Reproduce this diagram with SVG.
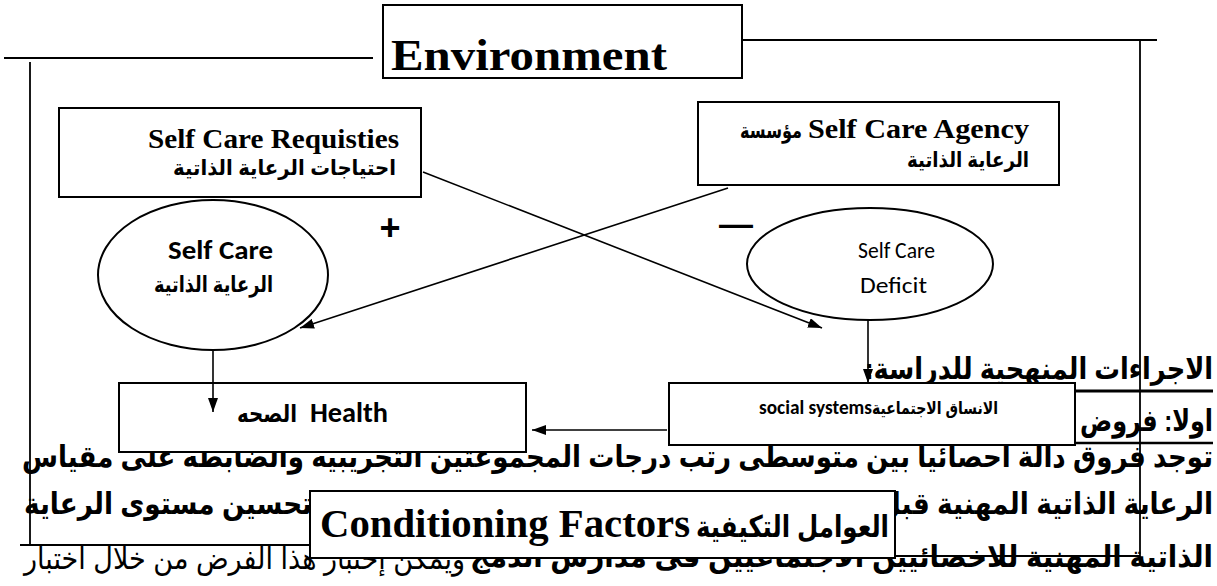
<svg xmlns="http://www.w3.org/2000/svg" width="1217" height="586" viewBox="0 0 1217 586">
<defs>
<style>
.box{fill:#fff;stroke:#000;stroke-width:2}
.ln{fill:none;stroke:#000;stroke-width:1.8}
.con{fill:none;stroke:#000;stroke-width:1.6}
.serif{font-family:'Liberation Serif','Times New Roman',serif;font-weight:bold;fill:#000}
.cal{font-family:Carlito,Lato,'Open Sans',sans-serif;fill:#000}
.ar{font-family:'Liberation Sans','DejaVu Sans',sans-serif;font-weight:bold;fill:#000}
.body{font-family:'Liberation Sans','DejaVu Sans',sans-serif;font-weight:bold;font-size:30px;fill:#000}
.thin{font-weight:normal}
</style>
<marker id="ah" markerUnits="userSpaceOnUse" viewBox="0 0 14 10" refX="14" refY="5" markerWidth="14" markerHeight="10" orient="auto"><path d="M0,0 L14,5 L0,10 Z" fill="#000"/></marker>
</defs>
<rect width="1217" height="586" fill="#fff"/>
<g id="document-text">
<text class="body" x="865" y="379" textLength="348" lengthAdjust="spacingAndGlyphs">الاجراءات المنهجية للدراسة:&#x200F;</text>
<line x1="877" y1="391" x2="1213" y2="391" stroke="#000" stroke-width="3"/>
<text class="body" x="1080" y="431" textLength="133" lengthAdjust="spacingAndGlyphs">اولا: فروض</text>
<line x1="1075" y1="443" x2="1213" y2="443" stroke="#000" stroke-width="2.5"/>
<text class="body" x="22" y="467" textLength="1191" lengthAdjust="spacingAndGlyphs">توجد فروق دالة احصائيا بين متوسطى رتب درجات المجموعتين التجريبيه والضابطه على مقياس</text>
<text class="body" x="878" y="514" textLength="335" lengthAdjust="spacingAndGlyphs">الرعاية الذاتية المهنية قبل</text>
<text class="body" x="24" y="514" textLength="288" lengthAdjust="spacingAndGlyphs">تحسين مستوى الرعاية</text>
<text class="body" x="470" y="567" textLength="743" lengthAdjust="spacingAndGlyphs">الذاتية المهنية للاخصائيين الاجتماعيين فى مدارس الدمج</text>
<text class="body thin" x="24" y="569" textLength="441" lengthAdjust="spacingAndGlyphs">ويمكن إختبار هذا الفرض من خلال اختبار</text>
</g>
<g id="environment-frame">
<line class="ln" x1="4" y1="58" x2="373" y2="58"/>
<line class="ln" x1="742" y1="40" x2="1157" y2="40"/>
<line class="ln" x1="30" y1="62" x2="30" y2="545"/>
<line class="ln" x1="1140" y1="40" x2="1140" y2="562"/>
<line class="ln" x1="20" y1="545" x2="310" y2="545"/>
<line class="ln" x1="895" y1="556" x2="1140" y2="556"/>
</g>
<g id="environment">
<rect class="box" x="383" y="5" width="359" height="73"/>
<text class="serif" x="391" y="70" font-size="44" textLength="276" lengthAdjust="spacingAndGlyphs">Environment</text>
</g>
<g id="self-care-requisites">
<rect class="box" x="59" y="108" width="362" height="89"/>
<text class="serif" x="148" y="148" font-size="27" textLength="251" lengthAdjust="spacingAndGlyphs">Self Care Requisties</text>
<text class="ar" x="173" y="175" font-size="21" textLength="223" lengthAdjust="spacingAndGlyphs">احتياجات الرعاية الذاتية</text>
</g>
<g id="self-care-agency">
<rect class="box" x="698" y="102" width="361" height="83"/>
<text class="serif" x="808" y="138" font-size="28" textLength="221" lengthAdjust="spacingAndGlyphs">Self Care Agency</text>
<text class="ar" x="740" y="138" font-size="22" textLength="62" lengthAdjust="spacingAndGlyphs">مؤسسة</text>
<text class="ar" x="907" y="167" font-size="21" textLength="122" lengthAdjust="spacingAndGlyphs">الرعاية الذاتية</text>
</g>
<g id="self-care">
<ellipse class="box" cx="213" cy="275" rx="115" ry="75"/>
<text class="cal" x="168" y="259" font-size="27" font-weight="bold" textLength="105" lengthAdjust="spacingAndGlyphs">Self Care</text>
<text class="ar" x="154" y="292" font-size="22" textLength="119" lengthAdjust="spacingAndGlyphs">الرعاية الذاتية</text>
</g>
<g id="self-care-deficit">
<ellipse class="box" cx="870" cy="264" rx="123" ry="56"/>
<text class="cal" x="858" y="258" font-size="23" textLength="77" lengthAdjust="spacingAndGlyphs">Self Care</text>
<text class="cal" x="860" y="293" font-size="23" textLength="67" lengthAdjust="spacingAndGlyphs">Deficit</text>
</g>
<g id="signs">
<text class="ar" x="390" y="240" font-size="36" text-anchor="middle">+</text>
<text class="ar" x="736" y="235" font-size="34" text-anchor="middle">—</text>
</g>
<g id="health">
<rect class="box" x="119" y="383" width="407" height="69"/>
<text class="ar" x="237" y="422" font-size="24" textLength="60" lengthAdjust="spacingAndGlyphs">الصحه</text>
<text class="cal" x="310" y="422" font-size="28" font-weight="bold" textLength="78" lengthAdjust="spacingAndGlyphs">Health</text>
</g>
<g id="social-systems">
<rect class="box" x="669" y="383" width="406" height="62"/>
<text class="cal" x="759" y="414" font-size="20" font-weight="bold" textLength="113" lengthAdjust="spacingAndGlyphs">social systems</text>
<text class="ar" x="872" y="414" font-size="17" textLength="126" lengthAdjust="spacingAndGlyphs">الانساق الاجتماعية</text>
</g>
<g id="conditioning-factors">
<rect class="box" x="310" y="491" width="585" height="67"/>
<text class="serif" x="320" y="537" font-size="40" textLength="370" lengthAdjust="spacingAndGlyphs">Conditioning Factors</text>
<text class="ar" x="696" y="537" font-size="30" textLength="193" lengthAdjust="spacingAndGlyphs">العوامل التكيفية</text>
</g>
<g id="connectors">
<line class="con" x1="423" y1="172" x2="822" y2="328" marker-end="url(#ah)"/>
<line class="con" x1="728" y1="188" x2="300" y2="328" marker-end="url(#ah)"/>
<line class="con" x1="213" y1="350" x2="213" y2="412" marker-end="url(#ah)"/>
<line class="con" x1="868" y1="320" x2="868" y2="383" marker-end="url(#ah)"/>
<line class="con" x1="667" y1="430" x2="532" y2="430" marker-end="url(#ah)"/>
</g>
</svg>
